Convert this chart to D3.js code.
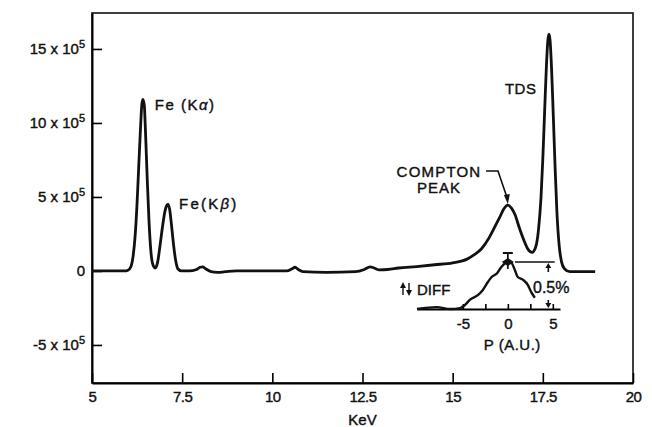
<!DOCTYPE html>
<html>
<head>
<meta charset="utf-8">
<script src="https://cdn.jsdelivr.net/npm/d3@7"></script>
<style>
  body { margin: 0; background: #fff; }
  svg { display: block; }
  text { font-family: "Liberation Sans", Arial, sans-serif; fill: #111; stroke: #111; stroke-width: 0.4px; }
</style>
</head>
<body>
<div id="chart"></div>
<script>
'use strict';
// spectrum: energy in keV, counts in units of 10^5
const energy = [5.0, 5.9, 6.0, 6.08, 6.14, 6.2, 6.25, 6.3, 6.35, 6.38, 6.41, 6.45, 6.48, 6.53, 6.58, 6.63, 6.68, 6.75,
    6.82, 6.88, 6.95, 7.02, 7.08, 7.11, 7.15, 7.2, 7.26, 7.32, 7.38, 7.48, 7.7, 7.88, 8.0, 8.07, 8.15, 8.3, 8.47, 8.7,
    9.0, 10.0, 10.4, 10.55, 10.63, 10.72, 10.85, 11.5, 12.3, 12.55, 12.71, 12.82, 12.95, 13.2, 13.5, 14.0, 14.5, 15.0,
    15.4, 15.6, 15.8, 16.0, 16.15, 16.3, 16.42, 16.53, 16.63, 16.73, 16.85, 16.97, 17.08, 17.2, 17.3, 17.38, 17.45,
    17.5, 17.55, 17.6, 17.64, 17.67, 17.7, 17.74, 17.79, 17.84, 17.89, 17.95, 18.02, 18.1, 18.25, 18.95];
const counts = [0, 0, 0.05, 0.3, 1.0, 2.5, 4.6, 7.3, 9.9, 11.2, 11.6, 11.2, 9.6, 6.3, 3.4, 1.4, 0.5, 0.2,
    0.6, 1.6, 2.9, 4.0, 4.45, 4.5, 4.2, 3.2, 1.8, 0.7, 0.15, 0, 0, 0.08, 0.25, 0.28, 0.15, -0.05, -0.1, -0.05,
    0, 0, 0, 0.15, 0.25, 0.1, -0.05, -0.1, -0.05, 0.1, 0.28, 0.2, 0.08, 0.1, 0.2, 0.3, 0.42, 0.55,
    0.8, 1.1, 1.5, 2.2, 2.9, 3.6, 4.2, 4.45, 4.25, 3.8, 2.9, 2.1, 1.5, 1.25, 1.6, 2.8, 5.0,
    7.6, 10.8, 13.9, 15.6, 16.0, 15.6, 13.8, 10.5, 7.0, 4.0, 1.8, 0.6, 0.15, -0.05, -0.05];

const xTicks = [5, 7.5, 10, 12.5, 15, 17.5, 20];
const yTicks = [-5, 0, 5, 10, 15];
const yExponent = '5';

// inset: difference curve vs. P (A.U.), in percent
const insetP = [-10.1, -7.9, -6.4, -5.3, -4.8, -4.2, -3.3, -2.8, -2.2, -1.8, -1.2, -0.7, 0, 0.4, 0.8, 1.1, 1.7, 2.2, 2.6, 3.0];
const insetDiff = [0, 0.02, 0, 0.01, 0.04, 0.1, 0.15, 0.2, 0.29, 0.34, 0.38, 0.45, 0.5, 0.49, 0.41, 0.34, 0.31, 0.26, 0.18, 0.12];
const insetTicks = [-5, -2.5, 0, 2.5, 5];
const insetTickLabels = ['-5', '', '0', '', '5'];
const diffMark = 0.5;

((d3) => {

    const width = 652;
    const height = 427;

//create elements
    const svg = d3.select('#chart')
        .append('svg')
        .attr('width', width)
        .attr('height', height);

//scales
    const x = d3.scaleLinear().domain([5, 20]).range([92, 633]);
    const y = d3.scaleLinear().domain([-7.57, 17.43]).range([383, 13]);

//frame
    svg.append('rect')
        .attr('x', x(5)).attr('y', y(17.43))
        .attr('width', x(20) - x(5)).attr('height', y(-7.57) - y(17.43))
        .attr('fill', 'none').attr('stroke', '#111').attr('stroke-width', 1.6);

//axes, ticks pointing inward
    const xAxis = svg.append('g')
        .attr('transform', 'translate(0,' + y(-7.57) + ')')
        .call(d3.axisBottom(x).tickValues(xTicks).tickSize(-10).tickSizeOuter(0).tickPadding(8)
            .tickFormat(d3.format('')));
    xAxis.selectAll('.domain').attr('stroke-width', 2);
    xAxis.selectAll('.tick line').attr('stroke-width', 1.6);
    xAxis.selectAll('.tick text')
        .style('font-size', '15px').attr('fill', '#111').attr('letter-spacing', '-0.5px');

    const yAxis = svg.append('g')
        .attr('transform', 'translate(' + x(5) + ',0)')
        .call(d3.axisLeft(y).tickValues(yTicks).tickSize(-10).tickSizeOuter(0).tickPadding(7)
            .tickFormat(''));
    yAxis.selectAll('.domain').attr('stroke-width', 2);
    yAxis.selectAll('.tick line').attr('stroke-width', 1.6);
    yAxis.selectAll('.tick text')
        .style('font-size', '15px').attr('fill', '#111')
        .each(function(d) {
            const t = d3.select(this);
            if (d === 0) { t.text('0'); return; }
            t.append('tspan').text(d + ' x 10');
            t.append('tspan').attr('dy', '-6').style('font-size', '11px').text(yExponent);
        });

    svg.append('text')
        .attr('x', (x(5) + x(20)) / 2).attr('y', 425)
        .attr('text-anchor', 'middle').style('font-size', '15px')
        .text('KeV');

//spectrum
    const line = d3.line()
        .x((d) => x(d[0]))
        .y((d) => y(d[1]))
        .curve(d3.curveMonotoneX);
    svg.append('path')
        .datum(d3.zip(energy, counts))
        .attr('d', line)
        .attr('fill', 'none').attr('stroke', '#111')
        .attr('stroke-width', 2.8).attr('stroke-linejoin', 'round');

//peak labels
    const kaLabel = svg.append('text')
        .attr('x', x(6.41) + 12).attr('y', y(11.7) + 12)
        .style('font-size', '15px').attr('letter-spacing', '1.5px');
    kaLabel.append('tspan').text('Fe (K');
    kaLabel.append('tspan').style('font-style', 'italic').text('α');
    kaLabel.append('tspan').text(')');

    const kbLabel = svg.append('text')
        .attr('x', x(7.11) + 11).attr('y', y(4.5) + 5)
        .style('font-size', '15px').attr('letter-spacing', '2.2px');
    kbLabel.append('tspan').text('Fe(K');
    kbLabel.append('tspan').style('font-style', 'italic').text('β');
    kbLabel.append('tspan').text(')');

    svg.append('text')
        .attr('x', x(17.67) - 44).attr('y', 94)
        .style('font-size', '15px').attr('letter-spacing', '0.5px')
        .text('TDS');

    svg.append('text')
        .attr('x', 439).attr('y', 177).attr('text-anchor', 'middle')
        .style('font-size', '15px').attr('letter-spacing', '1.2px')
        .text('COMPTON');
    svg.append('text')
        .attr('x', 439).attr('y', 193).attr('text-anchor', 'middle')
        .style('font-size', '15px').attr('letter-spacing', '1px')
        .text('PEAK');

    //leader to the compton peak
    const cx = x(16.53);
    const cy = y(4.45);
    svg.append('path')
        .attr('d', 'M486,171 L498,171 L' + (cx - 1) + ',' + (cy - 8))
        .attr('fill', 'none').attr('stroke', '#111').attr('stroke-width', 1.6);
    svg.append('path')
        .attr('d', 'M' + (cx - 4) + ',' + (cy - 10) + ' L' + (cx + 2) + ',' + (cy - 11) + ' L' + cx + ',' + (cy - 1) + 'Z')
        .attr('fill', '#111');

//inset
    const px = d3.scaleLinear().domain([-10.1, 5.8]).range([417, 560]);
    const py = d3.scaleLinear().domain([0, 0.5]).range([309, 262]);

    const inset = svg.append('g').attr('transform', 'translate(0,' + py(0) + ')')
        .call(d3.axisBottom(px).tickValues(insetTicks).tickSize(-5).tickSizeOuter(0).tickPadding(9)
            .tickFormat((d, i) => insetTickLabels[i]));
    inset.selectAll('.domain').attr('stroke-width', 2);
    inset.selectAll('.tick line').attr('stroke-width', 1.6);
    inset.selectAll('.tick text').style('font-size', '15px').attr('fill', '#111');

    svg.append('text')
        .attr('x', px(0.5)).attr('y', 350).attr('text-anchor', 'middle')
        .style('font-size', '15px').attr('letter-spacing', '0.5px')
        .text('P (A.U.)');

    const insetLine = d3.line()
        .x((d) => px(d[0]))
        .y((d) => py(d[1]))
        .curve(d3.curveMonotoneX);
    svg.append('path')
        .datum(d3.zip(insetP, insetDiff))
        .attr('d', insetLine)
        .attr('fill', 'none').attr('stroke', '#111')
        .attr('stroke-width', 2.4).attr('stroke-linejoin', 'round');

    //error bar at the inset peak
    const ex = px(0);
    const ey = py(diffMark);
    svg.append('path')
        .attr('d', 'M' + (ex - 5) + ',' + (ey - 9) + ' H' + (ex + 5) + ' M' + ex + ',' + (ey - 9) + ' V' + (ey + 7))
        .attr('stroke', '#111').attr('stroke-width', 1.8).attr('fill', 'none');
    svg.append('path')
        .attr('d', 'M' + (ex - 6) + ',' + ey + ' L' + ex + ',' + (ey - 4) + ' L' + (ex + 6) + ',' + ey + ' L' + ex + ',' + (ey + 4) + 'Z')
        .attr('fill', '#111');

    //0.5% scale marker
    const mx = px(4.5);
    svg.append('line')
        .attr('x1', px(0.8)).attr('x2', px(5.2))
        .attr('y1', py(diffMark)).attr('y2', py(diffMark))
        .attr('stroke', '#111').attr('stroke-width', 1.5);
    svg.append('path')
        .attr('d', 'M' + mx + ',' + (py(diffMark) + 10) + ' V' + (py(diffMark) + 4)
            + ' M' + mx + ',' + (py(0) - 9) + ' V' + (py(0) - 4))
        .attr('stroke', '#111').attr('stroke-width', 1.6);
    svg.append('path')
        .attr('d', 'M' + (mx - 3) + ',' + (py(diffMark) + 6) + ' L' + mx + ',' + (py(diffMark) + 1) + ' L' + (mx + 3) + ',' + (py(diffMark) + 6) + 'Z'
            + ' M' + (mx - 3) + ',' + (py(0) - 6) + ' L' + mx + ',' + (py(0) - 1) + ' L' + (mx + 3) + ',' + (py(0) - 6) + 'Z')
        .attr('fill', '#111');
    svg.append('text')
        .attr('x', 533).attr('y', 293)
        .style('font-size', '16px')
        .text(diffMark + '%');

    //DIFF label with up/down arrows
    const ax = 403;
    svg.append('path')
        .attr('d', 'M' + ax + ',' + 284 + ' V' + 295 + ' M' + (ax + 6) + ',' + 283 + ' V' + 294)
        .attr('stroke', '#111').attr('stroke-width', 1.4);
    svg.append('path')
        .attr('d', 'M' + (ax - 3) + ',288 L' + ax + ',282 L' + (ax + 3) + ',288Z'
            + ' M' + (ax + 3) + ',290 L' + (ax + 6) + ',296 L' + (ax + 9) + ',290Z')
        .attr('fill', '#111');
    svg.append('text')
        .attr('x', 417).attr('y', 295)
        .style('font-size', '15px')
        .text('DIFF');

})(window.d3);
</script>
</body>
</html>
